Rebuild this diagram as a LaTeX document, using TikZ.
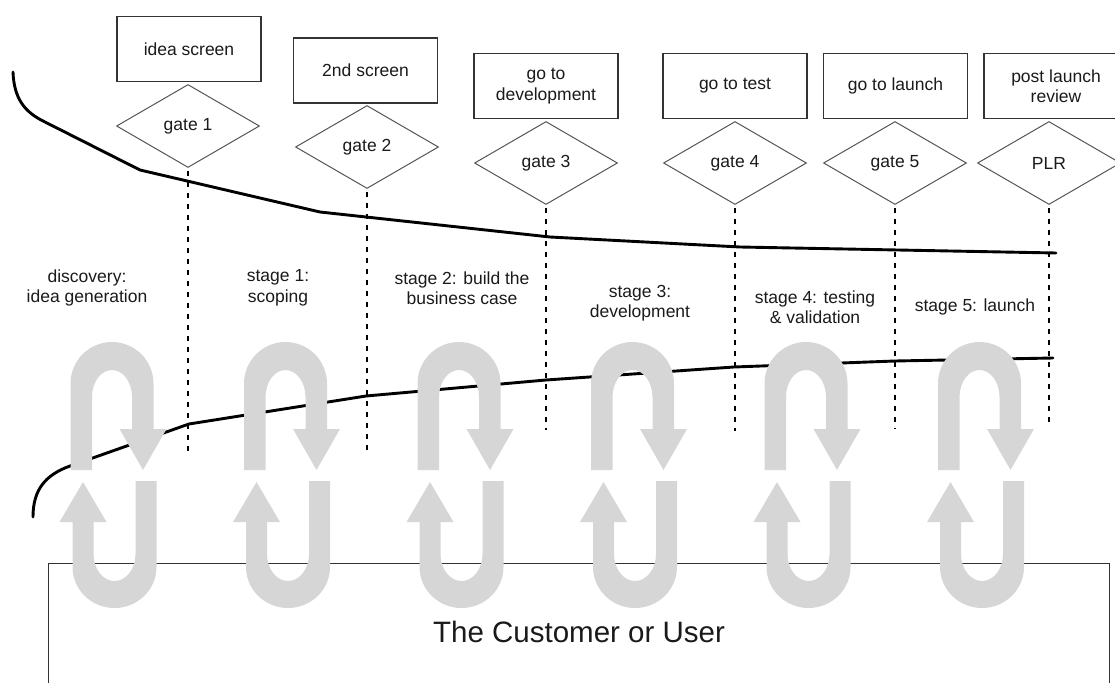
\documentclass[tikz,border=0pt]{standalone}
\usepackage{fontspec}
\setmainfont{Liberation Sans}
\usetikzlibrary{shapes.geometric}
\definecolor{loopgray}{HTML}{D6D6D6}
\definecolor{inkline}{HTML}{333333}
\definecolor{gateline}{HTML}{555555}
\definecolor{textink}{HTML}{1A1A1A}

\tikzset{
  basefont/.style={font=\fontsize{17.5}{20.5}\selectfont, text=textink},
  decisionbox/.style={basefont, draw=inkline, line width=1.2pt, minimum width=144pt,
    minimum height=65pt, inner sep=2pt, align=center},
  gatediamond/.style={basefont, shape=diamond, draw=gateline, line width=1pt,
    minimum width=143pt, minimum height=83pt, inner sep=0pt, aspect=1.72},
  stagelabel/.style={basefont, align=center, inner sep=0pt},
  gatelink/.style={black, line width=2.8pt, dash pattern=on 5pt off 6pt},
  funnel/.style={black, line width=2.9pt, line join=round, line cap=round},
  customerbox/.style={draw=inkline, line width=1.1pt, minimum width=1061pt,
    minimum height=136pt, anchor=north west, inner sep=0pt,
    font=\fontsize{29.5}{34}\selectfont, text=textink}
}

\begin{document}
\begin{tikzpicture}[x=1pt,y=-1pt]
  \useasboundingbox (0,0) rectangle (1115,682);
  \clip (0,0) rectangle (1115,682);

  % decision boxes
  \node[decisionbox] (b1) at (189,49)    {idea screen};
  \node[decisionbox] (b2) at (365.5,70.5) {2nd screen};
  \node[decisionbox] (b3) at (546,86)    {go to\\development};
  \node[decisionbox] (b4) at (735,86)    {go to test};
  \node[decisionbox] (b5) at (895.5,86)  {go to launch};
  \node[decisionbox] (b6) at (1056,86)   {post launch\\review};

  % gates
  \node[gatediamond] (g1) at (188,126) {gate 1};
  \node[gatediamond] (g2) at (367,147) {gate 2};
  \node[gatediamond] (g3) at (546,163) {gate 3};
  \node[gatediamond] (g4) at (735,163) {gate 4};
  \node[gatediamond] (g5) at (895,163) {gate 5};
  \node[gatediamond] (g6) at (1049,163) {PLR};

  % stage labels
  \node[stagelabel] (s0) at (87,288)  {discovery:\\idea generation};
  \node[stagelabel] (s1) at (278,288) {stage 1:\\scoping};
  \node[stagelabel] (s2) at (462,288) {stage 2: build the\\business case};
  \node[stagelabel] (s3) at (640,303) {stage 3:\\development};
  \node[stagelabel] (s4) at (815,307) {stage 4: testing\\\& validation};
  \node[stagelabel] (s5) at (975,307) {stage 5: launch};

  % funnel outline
  \draw[funnel] (13,72) .. controls (14,98) and (24,112) .. (45,122)
    -- (140,170) -- (320,212) -- (550,237) -- (740,247) -- (1056,253);
  \draw[funnel] (33,517) .. controls (33,490) and (45,475) .. (70,466)
    -- (189,424) -- (366,396) -- (546,380) -- (734,367) -- (895,361) -- (1053,358);

  % gate separators
  \coordinate (e1) at (188,452);
  \coordinate (e2) at (367,455);
  \coordinate (e3) at (546,430);
  \coordinate (e4) at (735,431);
  \coordinate (e5) at (895,429);
  \coordinate (e6) at (1049,422);
  \foreach \i in {1,...,6}
    \draw[gatelink] ([yshift=-3pt]g\i.south) -- (e\i);

  % customer
  \node[customerbox] (customer) at (48,563) {The Customer or User};

  % feedback loops
  \foreach \c [evaluate=\c as \d using \c+2.5] in {112,285.5,459,632.5,806,979.5} {
    \fill[loopgray] ({\c-41.5},470) -- ({\c-41.5},383.5)
      arc[start angle=180,end angle=360,x radius=41.5,y radius=41.5]
      -- ({\c+41.5},429) -- ({\c+54.5},429) -- ({\c+31},470) -- ({\c+7.5},429)
      -- ({\c+20},429) -- ({\c+20},397)
      arc[start angle=360,end angle=180,x radius=20,y radius=27]
      -- ({\c-20},470) -- cycle;
    \fill[loopgray] ({\d+21},481) -- ({\d+42},481) -- ({\d+42},567)
      arc[start angle=0,end angle=180,x radius=42,y radius=41]
      -- ({\d-42},522) -- ({\d-55},522) -- ({\d-31.5},482) -- ({\d-8},522)
      -- ({\d-21},522) -- ({\d-21},554)
      arc[start angle=180,end angle=0,x radius=21,y radius=27]
      -- cycle;
  }
\end{tikzpicture}
\end{document}
